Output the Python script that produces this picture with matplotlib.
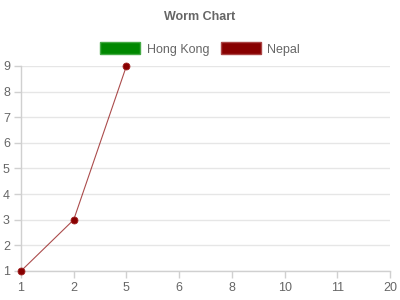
import matplotlib

matplotlib.use("Agg")
import matplotlib.pyplot as plt
from matplotlib.patches import Patch

plt.rcParams["font.family"] = ["Liberation Sans", "DejaVu Sans"]

# Category labels on the x axis (evenly spaced, not numeric)
categories = ["1", "2", "5", "6", "8", "10", "11", "20"]
# Series values (Hong Kong has no points in the chart)
hong_kong = []
nepal = [1, 3, 9]
y_ticks = [1, 2, 3, 4, 5, 6, 7, 8, 9]

TEXT = "#666666"
GRID = "#e6e6e6"
AXIS = "#d0d0d0"
HK_COLOR = "#008800"
NP_COLOR = "#880000"

fig = plt.figure(figsize=(4, 3), dpi=100)
ax = fig.add_axes([0.0525, 0.0967, 0.9225, 0.6833])

xs = list(range(len(categories)))
if hong_kong:
    ax.plot(xs[:len(hong_kong)], hong_kong, color=HK_COLOR, marker="o")
ax.plot(xs[:len(nepal)], nepal, color=NP_COLOR, alpha=0.7, linewidth=0.8,
        zorder=3)
ax.plot(xs[:len(nepal)], nepal, linestyle="none", marker="o", markersize=5,
        markerfacecolor=NP_COLOR, markeredgecolor="#a02020",
        markeredgewidth=0.6, zorder=4, clip_on=False)

ax.set_xlim(0, len(categories) - 1)
ax.set_ylim(1, 9)
ax.set_xticks(xs)
ax.set_xticklabels(categories)
ax.set_yticks(y_ticks)

ax.yaxis.grid(True, color=GRID, linewidth=1)
ax.xaxis.grid(False)
ax.set_axisbelow(True)
for side in ("top", "right"):
    ax.spines[side].set_visible(False)
for side in ("left", "bottom"):
    ax.spines[side].set_color(AXIS)
    ax.spines[side].set_linewidth(1)
ax.tick_params(axis="both", colors=AXIS, labelcolor=TEXT, labelsize=9,
               length=5, width=1)
ax.tick_params(axis="x", pad=3)
ax.tick_params(axis="y", pad=3)

fig.suptitle("Worm Chart", y=1 - 17 / 300, va="center", fontsize=9,
             fontweight="bold", color=TEXT)

handles = [
    Patch(facecolor=HK_COLOR, edgecolor="#44aa44", linewidth=1, label="Hong Kong"),
    Patch(facecolor=NP_COLOR, edgecolor="#aa4444", linewidth=1, label="Nepal"),
]
fig.legend(handles=handles, loc="center", bbox_to_anchor=(0.5, 1 - 49 / 300),
           ncol=2, frameon=False, fontsize=9, labelcolor=TEXT,
           handlelength=3.2, handleheight=1.1, handletextpad=0.55,
           columnspacing=0.9)

fig.savefig("out.png", dpi=100)
